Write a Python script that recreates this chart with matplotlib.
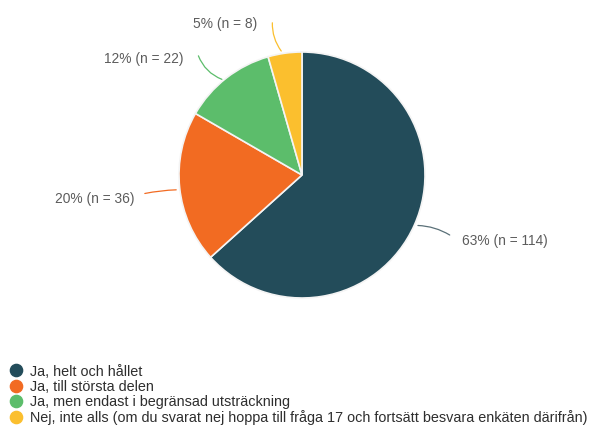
import matplotlib
matplotlib.use('Agg')
import matplotlib.pyplot as plt
from matplotlib.lines import Line2D
import numpy as np

plt.rcParams['font.family'] = ['Liberation Sans', 'DejaVu Sans']

# data
categories = ['Ja, helt och hållet',
              'Ja, till största delen',
              'Ja, men endast i begränsad utsträckning',
              'Nej, inte alls (om du svarat nej hoppa till fråga 17 och fortsätt besvara enkäten därifrån)']
counts = [114, 36, 22, 8]
percent_labels = ['63%', '20%', '12%', '5%']
colors = ['#234c5a', '#f26b22', '#5cbd6b', '#fbbf2e']

# label layout (axes units, pie radius = 1): line start, line end, text pos
line_start = [(0.92, -0.41), (-1.0, -0.12), (-0.63, 0.77), (-0.155, 0.99)]
line_end = [(1.22, -0.50), (-1.30, -0.155), (-0.85, 0.99), (-0.24, 1.26)]
text_pos = [(1.30, -0.54), (-1.36, -0.195), (-0.96, 0.94), (-0.36, 1.23)]
text_ha = ['left', 'right', 'right', 'right']
curve = [0.15, -0.05, 0.25, 0.2]

W, H = 597, 426
fig = plt.figure(figsize=(W / 100, H / 100), dpi=100)
cx, cy, r = 302, 175, 123
ax = fig.add_axes([(cx - r) / W, (H - cy - r) / H, 2 * r / W, 2 * r / H])

wedges, _ = ax.pie(counts, colors=colors, startangle=90, counterclock=False,
                   radius=1, wedgeprops=dict(edgecolor='#f4f4f4', linewidth=1.2))
ax.set_xlim(-1, 1)
ax.set_ylim(-1, 1)
ax.set_aspect('equal')
ax.axis('off')

line_colors = ['#5a7078', colors[1], colors[2], colors[3]]
for i, (p, n) in enumerate(zip(percent_labels, counts)):
    ax.annotate('', xy=line_start[i], xytext=line_end[i],
                arrowprops=dict(arrowstyle='-', color=line_colors[i], lw=0.9,
                                connectionstyle=f'arc3,rad={curve[i]}'),
                annotation_clip=False)
    ax.text(text_pos[i][0], text_pos[i][1], f'{p} (n = {n})', ha=text_ha[i],
            va='center', fontsize=9.9, color='#5c5c5c', clip_on=False)

handles = [Line2D([0], [0], marker='o', linestyle='none', markersize=8.8,
                  markerfacecolor=c, markeredgecolor=c) for c in colors]
fig.legend(handles, categories, loc='lower left', bbox_to_anchor=(9 / W, 1 / H),
           frameon=False, prop=dict(size=10.4), handletextpad=0.42,
           labelspacing=0.08, handlelength=1.0, borderaxespad=0, borderpad=0,
           labelcolor='#2e2e2e')

fig.savefig('out.png', dpi=100)
